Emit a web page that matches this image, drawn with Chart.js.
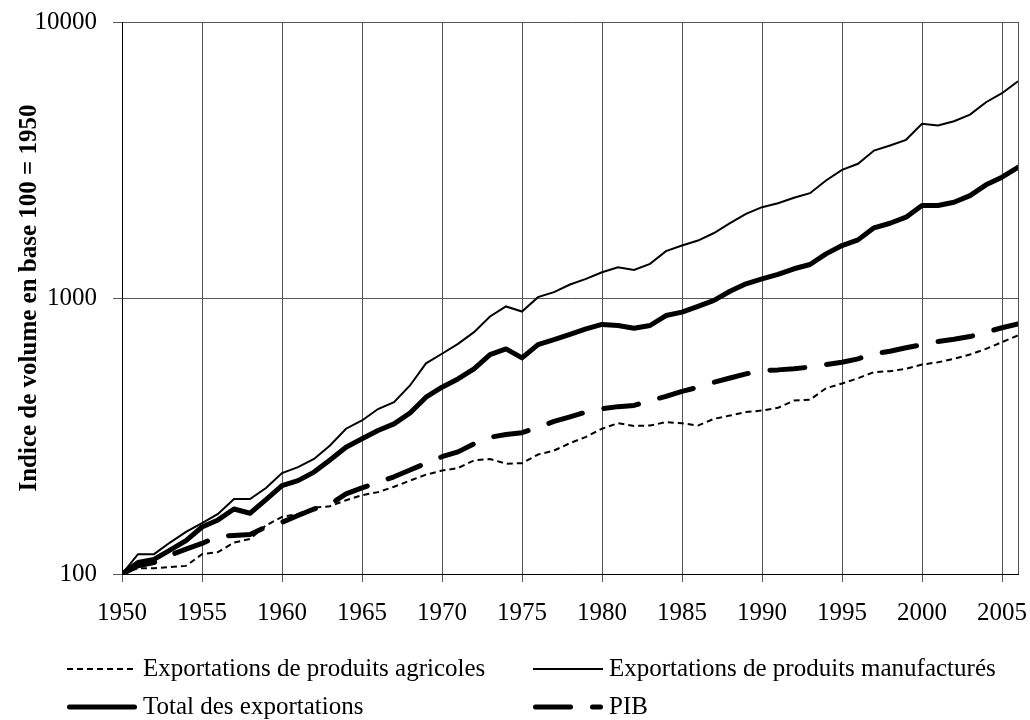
<!DOCTYPE html>
<html>
<head>
<meta charset="utf-8">
<script src="https://cdn.jsdelivr.net/npm/chart.js@4/dist/chart.umd.min.js"></script>
<style>
html,body{margin:0;padding:0;background:#fff;}
#wrap{width:1030px;height:720px;}
</style>
</head>
<body>
<div id="wrap"><canvas id="c" width="1030" height="720"></canvas></div>
<script>
const years = [1950,1951,1952,1953,1954,1955,1956,1957,1958,1959,
  1960,1961,1962,1963,1964,1965,1966,1967,1968,1969,
  1970,1971,1972,1973,1974,1975,1976,1977,1978,1979,
  1980,1981,1982,1983,1984,1985,1986,1987,1988,1989,
  1990,1991,1992,1993,1994,1995,1996,1997,1998,1999,
  2000,2001,2002,2003,2004,2005,2006];

const agricoles = [100,105,105,106,107,118,120,130,134,150,
  161,165,174,176,185,193,198,207,218,229,
  237,242,258,261,251,252,271,280,298,314,
  336,352,344,345,355,352,345,365,375,386,
  391,400,425,428,471,490,512,539,543,554,
  574,585,602,624,654,692,732];

const manufactures = [100,118,118,130,142,153,165,187,187,205,
  232,244,261,292,336,360,396,419,482,580,
  628,682,752,857,932,893,1007,1050,1119,1173,
  1240,1291,1264,1330,1478,1549,1615,1720,1866,2018,
  2133,2206,2307,2398,2666,2914,3064,3422,3568,3742,
  4276,4217,4371,4620,5121,5520,6100];

const totalExportations = [100,110,113,122,132,148,157,172,166,186,
  209,218,234,259,288,309,331,350,383,437,
  475,509,554,624,654,607,678,706,738,773,
  802,795,777,795,864,889,932,980,1058,1126,
  1173,1217,1276,1322,1445,1549,1624,1796,1866,1962,
  2163,2163,2224,2350,2570,2740,2976];

const pib = [100,107,110,117,123,129,137,138,139,148,
  154,163,172,179,195,205,215,225,238,252,
  266,277,296,313,320,325,340,357,371,386,
  397,404,408,425,440,459,475,495,513,531,
  546,549,554,562,574,585,602,628,641,660,
  678,696,709,725,752,780,806];

const seriesLabels = [
  'Exportations de produits agricoles',
  'Exportations de produits manufacturés',
  'Total des exportations',
  'PIB'
];
const yTickValues = [100, 1000, 10000];
const xTickStep = 5;
const yTitle = 'Indice de volume en base 100 = 1950';

const FONT = '"Liberation Serif", "Times New Roman", Times, serif';
Chart.defaults.font.family = FONT;
Chart.defaults.font.size = 25;
Chart.defaults.color = '#000';

const toXY = arr => arr.map((v, i) => ({x: years[i], y: v}));

const legendPlugin = {
  id: 'gridLegend',
  afterDraw(chart) {
    const ctx = chart.ctx;
    const cols = [67, 533];
    const rows = [669, 707];
    const sampleLen = 70;
    chart.data.datasets.forEach((ds, i) => {
      const x = cols[i % 2];
      const y = rows[Math.floor(i / 2)];
      ctx.save();
      ctx.lineWidth = ds.borderWidth;
      ctx.strokeStyle = ds.borderColor;
      ctx.lineCap = ds.borderCapStyle || 'butt';
      ctx.setLineDash(ds.borderDash || []);
      const inset = ctx.lineCap === 'round' ? ds.borderWidth / 2 : 0;
      ctx.beginPath();
      ctx.moveTo(x + inset, y);
      ctx.lineTo(x + sampleLen - inset, y);
      ctx.stroke();
      ctx.setLineDash([]);
      ctx.fillStyle = '#000';
      ctx.font = '25px ' + FONT;
      ctx.textBaseline = 'middle';
      ctx.textAlign = 'left';
      ctx.fillText(ds.label, x + sampleLen + 6, y);
      ctx.restore();
    });
  }
};

new Chart(document.getElementById('c'), {
  type: 'line',
  data: {
    datasets: [
      {
        label: seriesLabels[0],
        data: toXY(agricoles),
        borderColor: '#000',
        borderWidth: 2,
        borderDash: [6, 4],
        pointRadius: 0,
        tension: 0
      },
      {
        label: seriesLabels[1],
        data: toXY(manufactures),
        borderColor: '#000',
        borderWidth: 2,
        pointRadius: 0,
        tension: 0
      },
      {
        label: seriesLabels[2],
        data: toXY(totalExportations),
        borderColor: '#000',
        borderWidth: 5,
        borderCapStyle: 'round',
        borderJoinStyle: 'round',
        pointRadius: 0,
        tension: 0
      },
      {
        label: seriesLabels[3],
        data: toXY(pib),
        borderColor: '#000',
        borderWidth: 5,
        borderDash: [35, 22],
        borderCapStyle: 'round',
        borderJoinStyle: 'round',
        pointRadius: 0,
        tension: 0
      }
    ]
  },
  options: {
    responsive: false,
    animation: false,
    devicePixelRatio: 1,
    layout: { padding: { left: 0, right: 12, top: 22, bottom: 86 } },
    plugins: {
      legend: { display: false },
      tooltip: { enabled: false }
    },
    scales: {
      x: {
        type: 'linear',
        min: years[0],
        max: years[years.length - 1],
        afterBuildTicks: s => {
          s.ticks = years
            .filter((yv, i) => yv % xTickStep === 0 || i === years.length - 1)
            .map(v => ({ value: v }));
        },
        afterFit: s => {
          s.height = 60;
          s.paddingLeft = 0;
          s.paddingRight = 0;
        },
        ticks: {
          autoSkip: false,
          maxRotation: 0,
          minRotation: 0,
          padding: 16,
          color: '#000',
          callback: v => (v % xTickStep === 0 ? String(v) : '')
        },
        grid: {
          color: '#555',
          lineWidth: 1,
          tickLength: 8,
          tickColor: c => (c.tick && c.tick.value % xTickStep !== 0 ? 'rgba(0,0,0,0)' : '#555')
        },
        border: { color: '#000', width: 1 }
      },
      y: {
        type: 'logarithmic',
        min: yTickValues[0],
        max: yTickValues[yTickValues.length - 1],
        afterBuildTicks: s => { s.ticks = yTickValues.map(v => ({ value: v })); },
        afterFit: s => {
          s.width = 122;
          s.paddingTop = 0;
          s.paddingBottom = 0;
        },
        ticks: {
          padding: 16,
          color: '#000',
          callback: v => String(v)
        },
        grid: { color: '#555', lineWidth: 1, tickLength: 9 },
        border: { color: '#000', width: 1 },
        title: {
          display: true,
          text: yTitle,
          color: '#000',
          font: { size: 25, weight: 'bold' },
          padding: { top: 15, bottom: 0 }
        }
      }
    }
  },
  plugins: [legendPlugin]
});
</script>
</body>
</html>
